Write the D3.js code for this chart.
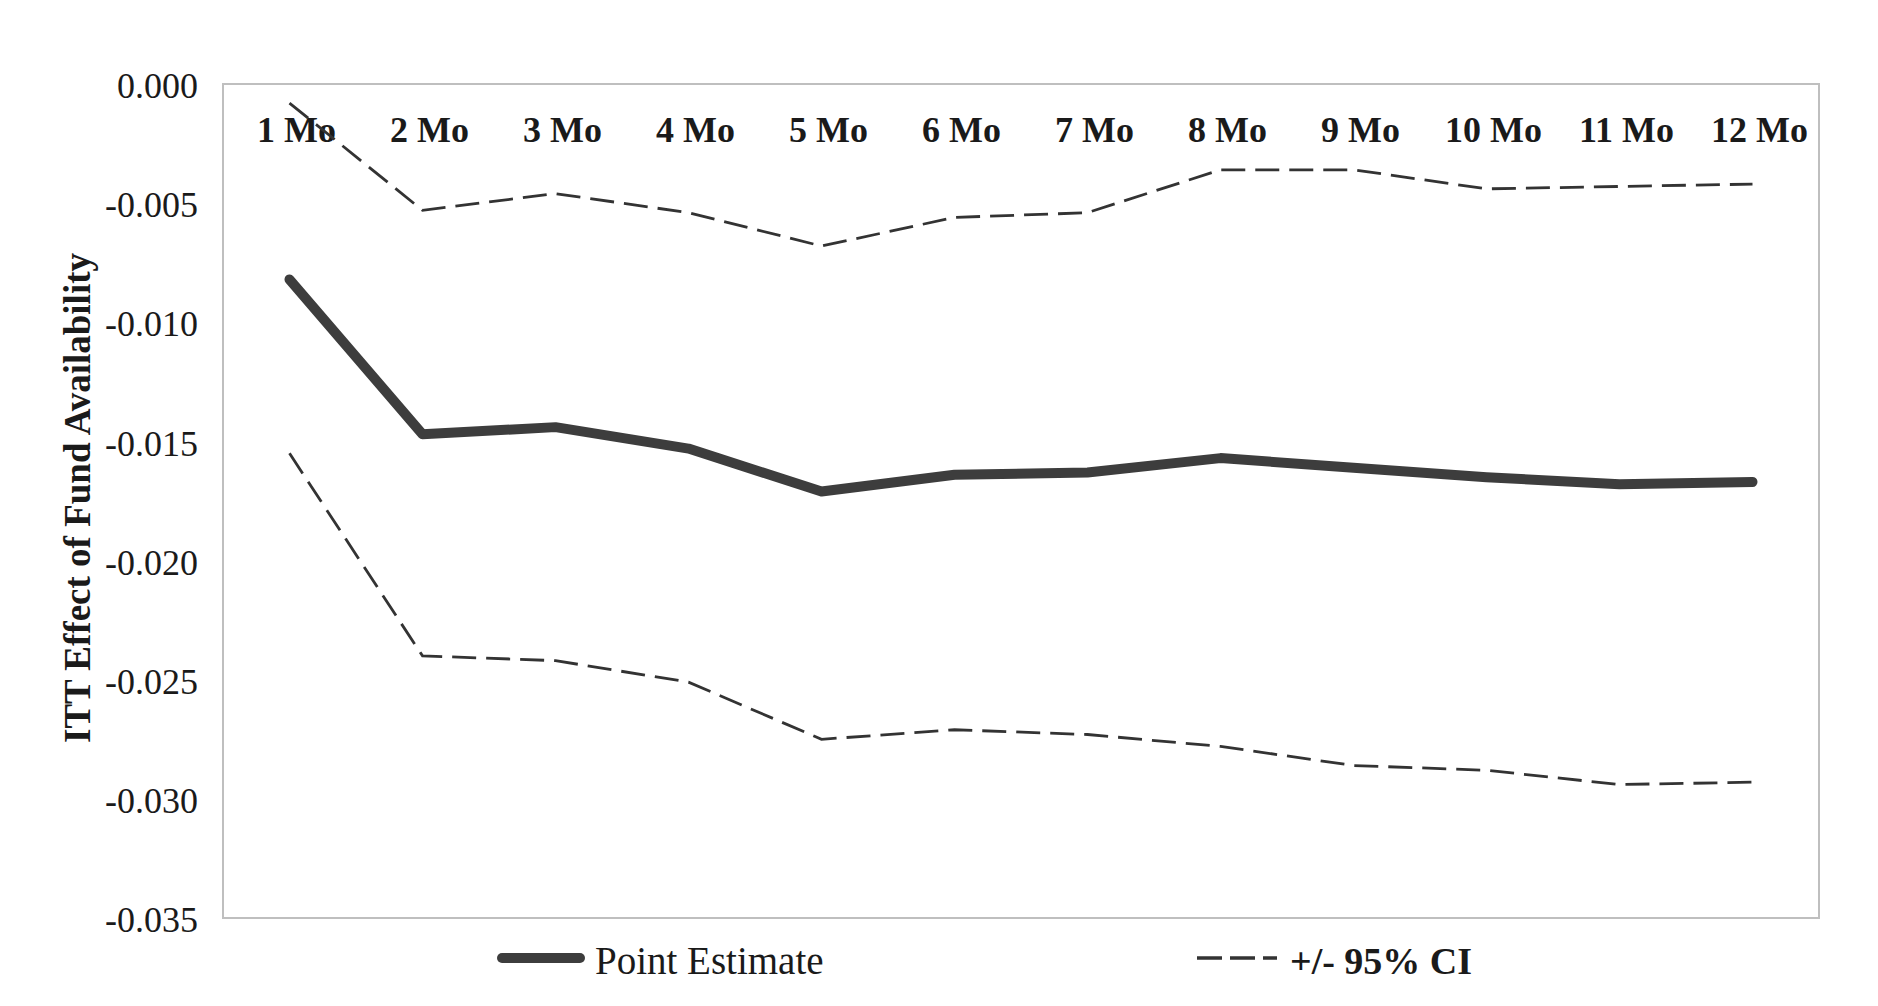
<!DOCTYPE html>
<html>
<head>
<meta charset="utf-8">
<script src="https://cdn.jsdelivr.net/npm/d3@7"></script>
<style>
  html, body { margin: 0; padding: 0; background: #fff; }
  svg { display: block; }
</style>
</head>
<body>
<script>
// ---- Data ----
const categories = ["1 Mo","2 Mo","3 Mo","4 Mo","5 Mo","6 Mo","7 Mo","8 Mo","9 Mo","10 Mo","11 Mo","12 Mo"];
const pointEstimate = [-0.0082,-0.0147,-0.0144,-0.0153,-0.0171,-0.0164,-0.0163,-0.0157,-0.0161,-0.0165,-0.0168,-0.0167];
const upperCI = [-0.0008,-0.0053,-0.0046,-0.0054,-0.0068,-0.0056,-0.0054,-0.0036,-0.0036,-0.0044,-0.0043,-0.0042];
const lowerCI = [-0.0155,-0.0240,-0.0242,-0.0251,-0.0275,-0.0271,-0.0273,-0.0278,-0.0286,-0.0288,-0.0294,-0.0293];
const yTickValues = [0,-0.005,-0.010,-0.015,-0.020,-0.025,-0.030,-0.035];
const yTickLabels = ["0.000","-0.005","-0.010","-0.015","-0.020","-0.025","-0.030","-0.035"];
const yTitle = "ITT Effect of Fund Availability";
const legendLabels = ["Point Estimate","+/- 95% CI"];

// ---- Layout ----
const W = 1878, H = 1006;
const plot = {left: 223, right: 1819, top: 84, bottom: 918};
const font = "'Liberation Serif', 'Times New Roman', serif";

const svg = d3.select("body").append("svg").attr("width", W).attr("height", H);

const x = d3.scaleBand().domain(categories).range([plot.left, plot.right]).padding(0);
const xc = c => x(c) + x.bandwidth() / 2;
const y = d3.scaleLinear().domain([-0.035, 0]).range([plot.bottom, plot.top]);

// frame
svg.append("rect")
  .attr("x", plot.left).attr("y", plot.top)
  .attr("width", plot.right - plot.left).attr("height", plot.bottom - plot.top)
  .attr("fill", "none").attr("stroke", "#bfbfbf").attr("stroke-width", 2);

// y axis
const yAxis = d3.axisLeft(y).tickValues(yTickValues).tickSize(0).tickPadding(0)
  .tickFormat((d, i) => yTickLabels[i]);
const gy = svg.append("g").attr("transform", `translate(198,0)`).call(yAxis);
gy.select(".domain").remove();
gy.selectAll("text")
  .attr("font-family", font).attr("font-size", 36).attr("fill", "#1a1a1a")
  .attr("dy", "0.38em");

// x category labels (top, inside)
const xAxis = d3.axisTop(x).tickSize(0).tickPadding(0);
const gx = svg.append("g").attr("transform", `translate(7,142)`).call(xAxis);
gx.select(".domain").remove();
gx.selectAll("text")
  .attr("font-family", font).attr("font-size", 36).attr("font-weight", "bold")
  .attr("fill", "#1a1a1a").attr("dy", 0);

// lines
const line = d3.line().x((d, i) => xc(categories[i])).y(d => y(d));

svg.append("path").datum(upperCI).attr("d", line)
  .attr("fill", "none").attr("stroke", "#333").attr("stroke-width", 2.8)
  .attr("stroke-dasharray", "24,10");
svg.append("path").datum(lowerCI).attr("d", line)
  .attr("fill", "none").attr("stroke", "#333").attr("stroke-width", 2.8)
  .attr("stroke-dasharray", "24,10");
svg.append("path").datum(pointEstimate).attr("d", line)
  .attr("fill", "none").attr("stroke", "#3d3d3d").attr("stroke-width", 10)
  .attr("stroke-linecap", "round").attr("stroke-linejoin", "round");

// y title
svg.append("text")
  .attr("transform", "translate(90,498) rotate(-90)")
  .attr("text-anchor", "middle")
  .attr("font-family", font).attr("font-size", 37).attr("font-weight", "bold")
  .attr("fill", "#1a1a1a")
  .text(yTitle);

// legend
const lg = svg.append("g");
lg.append("line").attr("x1", 502).attr("x2", 580).attr("y1", 958).attr("y2", 958)
  .attr("stroke", "#3d3d3d").attr("stroke-width", 10).attr("stroke-linecap", "round");
lg.append("text").attr("x", 595).attr("y", 974)
  .attr("font-family", font).attr("font-size", 39).attr("fill", "#1a1a1a")
  .text(legendLabels[0]);
lg.append("line").attr("x1", 1197).attr("x2", 1277).attr("y1", 958).attr("y2", 958)
  .attr("stroke", "#333").attr("stroke-width", 3.5).attr("stroke-dasharray", "25,8");
lg.append("text").attr("x", 1290).attr("y", 974)
  .attr("font-family", font).attr("font-size", 38).attr("font-weight", "bold").attr("fill", "#1a1a1a")
  .text(legendLabels[1]);
</script>
</body>
</html>
